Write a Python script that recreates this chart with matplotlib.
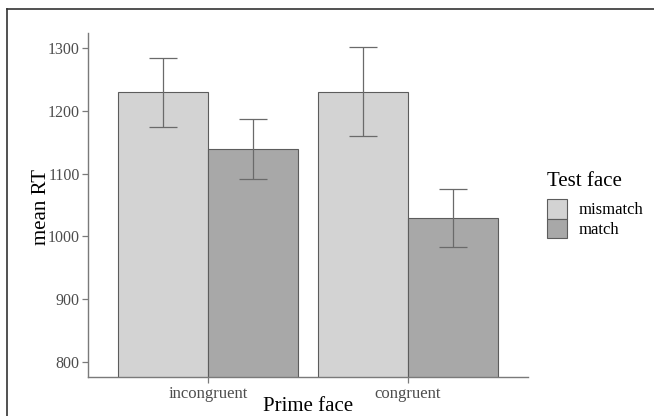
import numpy as np
import matplotlib
matplotlib.use('Agg')
import matplotlib.pyplot as plt
from matplotlib.patches import Patch
from matplotlib.lines import Line2D

plt.rcParams['font.family'] = ['Liberation Serif', 'DejaVu Serif']

# data
prime = ['incongruent', 'congruent']
test = ['mismatch', 'match']
mean_rt = {'mismatch': [1230, 1231], 'match': [1140, 1029]}
err_lo = {'mismatch': [1174, 1160], 'match': [1091, 983]}
err_hi = {'mismatch': [1284, 1302], 'match': [1187, 1075]}
fills = {'mismatch': '#d3d3d3', 'match': '#a8a8a8'}

fig = plt.figure(figsize=(6.54, 4.16), dpi=100)
ax = fig.add_axes([0.1346, 0.093, 0.8073 - 0.1346, 0.9214 - 0.093])

x = np.arange(len(prime))
w = 0.45
edge = '#5c5c5c'
for i, t in enumerate(test):
    xs = x + (i - 0.5) * w
    vals = np.array(mean_rt[t])
    ax.bar(xs, vals - 700, bottom=700, width=w, color=fills[t],
           edgecolor=edge, linewidth=0.8, zorder=2)
    lo = vals - np.array(err_lo[t])
    hi = np.array(err_hi[t]) - vals
    ax.errorbar(xs, vals, yerr=[lo, hi], fmt='none', ecolor='#6a6a6a',
                elinewidth=0.9, capsize=10, capthick=0.9, zorder=3)

ax.set_xlim(-0.6, 1.6)
ax.set_ylim(775, 1325)
ax.set_yticks([800, 900, 1000, 1100, 1200, 1300])
ax.set_xticks(x)
ax.set_xticklabels(prime)

for s in ['top', 'right']:
    ax.spines[s].set_visible(False)
for s in ['left', 'bottom']:
    ax.spines[s].set_color('#7a7a7a')
    ax.spines[s].set_linewidth(1.0)
ax.tick_params(axis='both', colors='#7a7a7a', length=4, width=0.9,
               labelcolor='#4d4d4d', pad=2)
ax.tick_params(axis='x', labelsize=12)
ax.tick_params(axis='y', labelsize=11.5)

ax.set_ylabel('mean RT', fontsize=15)
ax.yaxis.set_label_coords(-0.085, 0.494)
ax.set_xlabel('Prime face', fontsize=15, labelpad=-3)

handles = [Patch(facecolor=fills[t], edgecolor=edge, linewidth=0.8) for t in test]
leg = fig.legend(handles, test, title='Test face', loc='upper left',
                 bbox_to_anchor=(547 / 654, 1 - 172 / 416), frameon=False,
                 fontsize=12, title_fontsize=15, handlelength=1.2,
                 handleheight=1.4, labelspacing=0, handletextpad=0.7,
                 borderpad=0, borderaxespad=0, alignment='left')
leg._legend_box.sep = 6

# frame lines at top and left of the picture
fig.add_artist(Line2D([7.3 / 654, 1], [1 - 9.3 / 416, 1 - 9.3 / 416],
                      color='#333333', linewidth=1.2, transform=fig.transFigure))
fig.add_artist(Line2D([7.3 / 654, 7.3 / 654], [0, 1 - 9.3 / 416],
                      color='#333333', linewidth=1.2, transform=fig.transFigure))

fig.savefig('out.png', dpi=100)
